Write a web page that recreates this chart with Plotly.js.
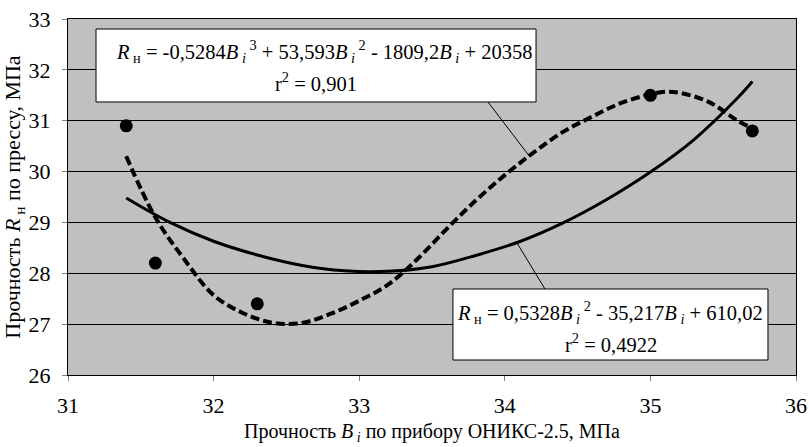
<!DOCTYPE html>
<html>
<head>
<meta charset="utf-8">
<script src="https://cdn.plot.ly/plotly-3.0.1.min.js"></script>
<style>html,body{margin:0;padding:0;background:#fff}#chart{width:809px;height:447px}</style>
</head>
<body>
<div id="chart"></div>
<script>
// Measured points
var pointsX = [31.4, 31.6, 32.3, 35.0, 35.7];
var pointsY = [30.9, 28.2, 27.4, 31.5, 30.8];

// Cubic trendline (dashed)
var cubicX = [31.4, 31.6, 31.8, 32.0, 32.2, 32.4, 32.6, 32.8, 33.0, 33.2, 33.4, 33.6, 33.8, 34.0, 34.2, 34.4, 34.6, 34.8, 35.0, 35.1, 35.2, 35.4, 35.6, 35.7];
var cubicY = [30.3, 29.1, 28.27, 27.57, 27.22, 27.03, 27.02, 27.2, 27.46, 27.78, 28.28, 28.87, 29.43, 29.93, 30.38, 30.78, 31.08, 31.35, 31.52, 31.57, 31.55, 31.37, 31.0, 30.85];

// Quadratic trendline (solid)
var quadX = [31.4, 31.7, 32.0, 32.3, 32.6, 32.9, 33.2, 33.5, 33.8, 34.1, 34.4, 34.7, 35.0, 35.3, 35.6, 35.7];
var quadY = [29.48, 29.0, 28.63, 28.36, 28.16, 28.05, 28.04, 28.13, 28.35, 28.62, 28.99, 29.45, 29.99, 30.63, 31.45, 31.77];

var xTicks = [31, 32, 33, 34, 35, 36];
var yTicks = [26, 27, 28, 29, 30, 31, 32, 33];

var eq1a = '<i>R</i><sub> н</sub> = -0,5284<i>B</i><sub> <i>i</i></sub><sup> 3</sup> + 53,593<i>B</i><sub> <i>i</i></sub><sup> 2</sup> - 1809,2<i>B</i><sub> <i>i</i></sub> + 20358';
var eq1b = 'r<sup>2</sup> = 0,901';
var eq2a = '<i>R</i><sub> н</sub> = 0,5328<i>B</i><sub> <i>i</i></sub><sup> 2</sup> - 35,217<i>B</i><sub> <i>i</i></sub> + 610,02';
var eq2b = 'r<sup>2</sup> = 0,4922';

var FONT = '"Liberation Serif", "Times New Roman", serif';

var traces = [
  {x: quadX, y: quadY, mode: 'lines', line: {color: '#000', width: 3, shape: 'spline'}, hoverinfo: 'skip'},
  {x: cubicX, y: cubicY, mode: 'lines', line: {color: '#000', width: 4, shape: 'spline', dash: '9px,4px'}, hoverinfo: 'skip'},
  {x: pointsX, y: pointsY, mode: 'markers', marker: {color: '#000', size: 13}}
];

var layout = {
  width: 809, height: 447,
  margin: {l: 68, r: 13, t: 19, b: 72},
  paper_bgcolor: '#fff',
  plot_bgcolor: '#c0c0c0',
  showlegend: false,
  font: {family: FONT, color: '#000', size: 20},
  xaxis: {
    range: [31, 36], tickvals: xTicks, ticktext: xTicks.map(String),
    showgrid: false, zeroline: false, automargin: false,
    showline: true, linecolor: '#000', linewidth: 1, mirror: true,
    ticks: 'outside', ticklen: 5, tickcolor: '#808080', tickwidth: 1,
    ticklabelstandoff: 6,
    tickfont: {family: FONT, size: 22},
    title: {text: 'Прочность <i>B</i><sub> <i>i</i></sub> по прибору ОНИКС-2.5, МПа', font: {family: FONT, size: 20}, standoff: 6}
  },
  yaxis: {
    range: [26, 33], tickvals: yTicks, ticktext: yTicks.map(String),
    showgrid: true, gridcolor: '#000', gridwidth: 1, zeroline: false, automargin: false,
    showline: true, linecolor: '#000', linewidth: 1, mirror: true,
    ticks: 'outside', ticklen: 5, tickcolor: '#808080', tickwidth: 1,
    ticklabelstandoff: 7,
    tickfont: {family: FONT, size: 22},
    title: {text: 'Прочность <i>R</i><sub> н</sub> по прессу, МПа', font: {family: FONT, size: 22}, standoff: 2}
  },
  shapes: [
    {type: 'line', xref: 'paper', yref: 'paper', x0: 0.5769, y0: 0.7669, x1: 0.6346, y1: 0.6124, line: {color: '#000', width: 1}},
    {type: 'line', xref: 'paper', yref: 'paper', x0: 0.6168, y0: 0.3708, x1: 0.6552, y1: 0.2416, line: {color: '#000', width: 1}},
    {type: 'rect', xref: 'paper', yref: 'paper', x0: 0.0385, x1: 0.6429, y0: 0.7669, y1: 0.9719, fillcolor: '#fff', line: {color: '#000', width: 1}, layer: 'above'},
    {type: 'rect', xref: 'paper', yref: 'paper', x0: 0.5288, x1: 0.9615, y0: 0.0421, y1: 0.2416, fillcolor: '#fff', line: {color: '#000', width: 1}, layer: 'above'}
  ],
  annotations: [
    {xref: 'paper', yref: 'paper', x: 0.351, y: 0.9081, text: eq1a, showarrow: false, xanchor: 'center', yanchor: 'middle', font: {family: FONT, size: 20.5}},
    {xref: 'paper', yref: 'paper', x: 0.340, y: 0.8239, text: eq1b, showarrow: false, xanchor: 'center', yanchor: 'middle', font: {family: FONT, size: 20.5}},
    {xref: 'paper', yref: 'paper', x: 0.7445, y: 0.175, text: eq2a, showarrow: false, xanchor: 'center', yanchor: 'middle', font: {family: FONT, size: 20.5}},
    {xref: 'paper', yref: 'paper', x: 0.7456, y: 0.089, text: eq2b, showarrow: false, xanchor: 'center', yanchor: 'middle', font: {family: FONT, size: 20.5}}
  ]
};

Plotly.newPlot('chart', traces, layout, {staticPlot: true, displayModeBar: false});
</script>
</body>
</html>
